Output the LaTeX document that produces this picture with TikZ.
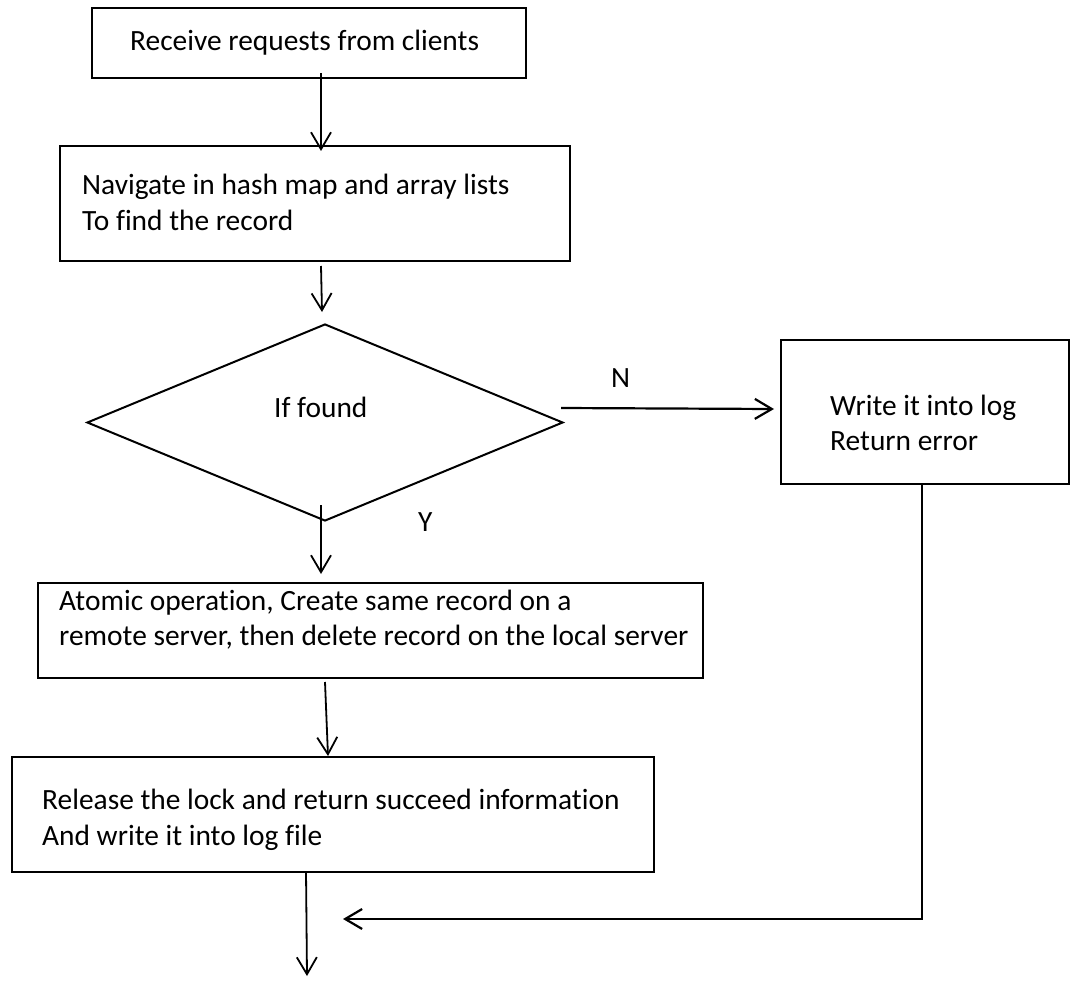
\documentclass[tikz,border=0pt]{standalone}
\usepackage{fontspec}
\setmainfont{Carlito}[Ligatures=NoCommon]
\usetikzlibrary{arrows.meta,shapes.geometric}
\begin{document}
\begin{tikzpicture}[x=1pt,y=-1pt,
  box/.style={draw,line width=2pt,rectangle,inner sep=0pt},
  txt/.style={inner sep=0pt,anchor=base west,font=\fontsize{29.4}{36}\selectfont},
  arr/.style={line width=1.8pt,-{Straight Barb[length=17pt,width=20pt]}},
  warr/.style={line width=2.2pt,-{Straight Barb[length=17pt,width=20pt]}}]
\useasboundingbox[fill=white] (0,0) rectangle (1083,984);
% boxes
\node[box,minimum width=434pt,minimum height=70pt] (b1) at (309,43) {};
\node[box,minimum width=510pt,minimum height=115pt] (b2) at (315,203.5) {};
\node[draw,line width=2pt,diamond,inner sep=0pt,minimum width=476pt,minimum height=197pt] (dia) at (325,422.5) {};
\node[box,minimum width=288pt,minimum height=144pt] (b3) at (925,412) {};
\node[box,minimum width=665pt,minimum height=95pt] (b4) at (370.5,630.5) {};
\node[box,minimum width=642pt,minimum height=115pt] (b5) at (333,814.5) {};
% texts
\node[txt] (t1) at (130,51) {Receive requests from clients};
\node[txt] (t2a) at (82,195) {Navigate in hash map and array lists};
\node[txt] (t2b) at (82,231) {To find the record};
\node[txt] (td) at (274,417) {If found};
\node[txt] (tn) at (611,387) {N};
\node[txt] (ty) at (418,531) {Y};
\node[txt] (t3a) at (830,415) {Write it into log};
\node[txt] (t3b) at (830,450) {Return error};
\node[txt] (t4a) at (59,610) {Atomic operation, Create same record on a};
\node[txt] (t4b) at (59,645) {remote server, then delete record on the local server};
\node[txt] (t5a) at (42,809) {Release the lock and return succeed information};
\node[txt] (t5b) at (42,845) {And write it into log file};
% connectors
\coordinate (endpt) at (307,976);
\coordinate (merge) at (343,919);
\draw[arr] ([xshift=12pt,yshift=6pt]b1.south) -- ([xshift=6pt,yshift=-6pt]b2.north);
\draw[arr] ([xshift=6pt,yshift=-4pt]b2.south) -- ([xshift=-3pt,yshift=11pt]dia.north);
\draw[warr] ([xshift=-3pt,yshift=14.5pt]dia.east) -- ([xshift=-6pt,yshift=3pt]b3.west);
\draw[arr] ([xshift=-4pt,yshift=17pt]dia.south) -- ([xshift=-49.5pt,yshift=8pt]b4.north);
\draw[arr] ([xshift=-45.5pt,yshift=-3pt]b4.south) -- ([xshift=-5pt]b5.north);
\draw[arr] ([xshift=-27pt,yshift=2pt]b5.south) -- (endpt);
\draw[warr] ([xshift=-3pt]b3.south) |- (merge);
\end{tikzpicture}
\end{document}
